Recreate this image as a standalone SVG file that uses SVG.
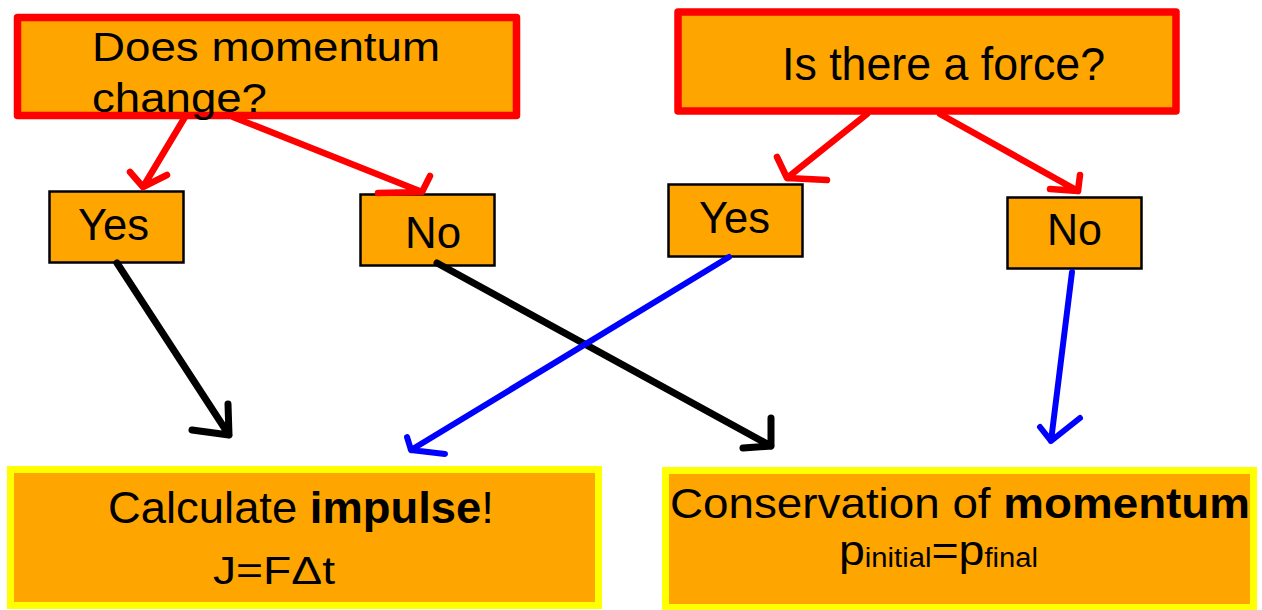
<svg xmlns="http://www.w3.org/2000/svg" width="1262" height="610" viewBox="0 0 1262 610">
<style>
.q{fill:#FFA500;stroke:#FF0000;stroke-width:7.5;stroke-linejoin:round}
.a{fill:#FFA500;stroke:#000;stroke-width:2.5}
.r{fill:#FFA500;stroke:#FFFF00;stroke-width:7}
text{font-family:"Liberation Sans",Arial,sans-serif;fill:#000}
.c{fill:none;stroke-linecap:round;stroke-linejoin:round}
.red{stroke:#FF0000;stroke-width:6.5}
.blk{stroke:#000;stroke-width:7}
.blu{stroke:#0000FF;stroke-width:6}
</style>
<rect width="1262" height="610" fill="#fff"/>
<g id="q1">
<rect class="q" x="17.5" y="17.5" width="499" height="98"/>
<text x="92" y="61" font-size="41" textLength="348" lengthAdjust="spacingAndGlyphs">Does momentum</text>
<text x="92" y="112" font-size="41" textLength="175" lengthAdjust="spacingAndGlyphs">change?</text>
</g>
<g id="q2">
<rect class="q" x="678" y="12" width="498" height="99"/>
<text x="782" y="80" font-size="46" textLength="323" lengthAdjust="spacingAndGlyphs">Is there a force?</text>
</g>
<g id="yes1">
<rect class="a" x="49.5" y="191.5" width="134" height="71"/>
<text x="78" y="240" font-size="45" textLength="71" lengthAdjust="spacingAndGlyphs">Yes</text>
</g>
<g id="no1">
<rect class="a" x="360.5" y="194.5" width="134" height="71"/>
<text x="405" y="248" font-size="45" textLength="56" lengthAdjust="spacingAndGlyphs">No</text>
</g>
<g id="yes2">
<rect class="a" x="668.5" y="184.5" width="134" height="72"/>
<text x="699" y="233" font-size="45" textLength="71" lengthAdjust="spacingAndGlyphs">Yes</text>
</g>
<g id="no2">
<rect class="a" x="1007.5" y="197.5" width="134" height="71"/>
<text x="1047" y="245" font-size="45" textLength="55" lengthAdjust="spacingAndGlyphs">No</text>
</g>
<g id="impulse">
<rect class="r" x="10.5" y="469.5" width="588" height="136"/>
<text x="108" y="523" font-size="44" textLength="386" lengthAdjust="spacingAndGlyphs">Calculate <tspan font-weight="bold">impulse</tspan>!</text>
<text x="213" y="584" font-size="39" textLength="122" lengthAdjust="spacingAndGlyphs">J=FΔt</text>
</g>
<g id="conservation">
<rect class="r" x="665.5" y="470.5" width="588" height="137"/>
<text x="670" y="518" font-size="43" textLength="580" lengthAdjust="spacingAndGlyphs">Conservation of <tspan font-weight="bold">momentum</tspan></text>
<text x="839" y="565" font-size="43" textLength="199" lengthAdjust="spacingAndGlyphs">p<tspan font-size="27" dy="2">initial</tspan><tspan dy="-2">=p</tspan><tspan font-size="27" dy="2">final</tspan></text>
</g>
<g id="connectors" class="c">
<path class="c red" d="M185 117 L143 187 M130 172 L143 187 L167 175"/>
<path class="c red" d="M233 117 L422 192 M378 193 L422 192 L430 176"/>
<path class="c red" d="M867 114 L787 178 M777 157 L787 178 L827 180"/>
<path class="c red" d="M940 114 L1078 191 M1050 189 L1078 191 L1080 175"/>
<path class="c blk" d="M117 263 L229 435 M192 430 L229 435 L228 404"/>
<path class="c blk" d="M437 263 L771 446 M743 448 L771 446 L771 418"/>
<path class="c blu" d="M729 257 L411 450 M407 437 L411 450 L445 454"/>
<path class="c blu" d="M1072 272 L1051 441 M1040 427 L1051 441 L1080 418"/>
</g>
</svg>
